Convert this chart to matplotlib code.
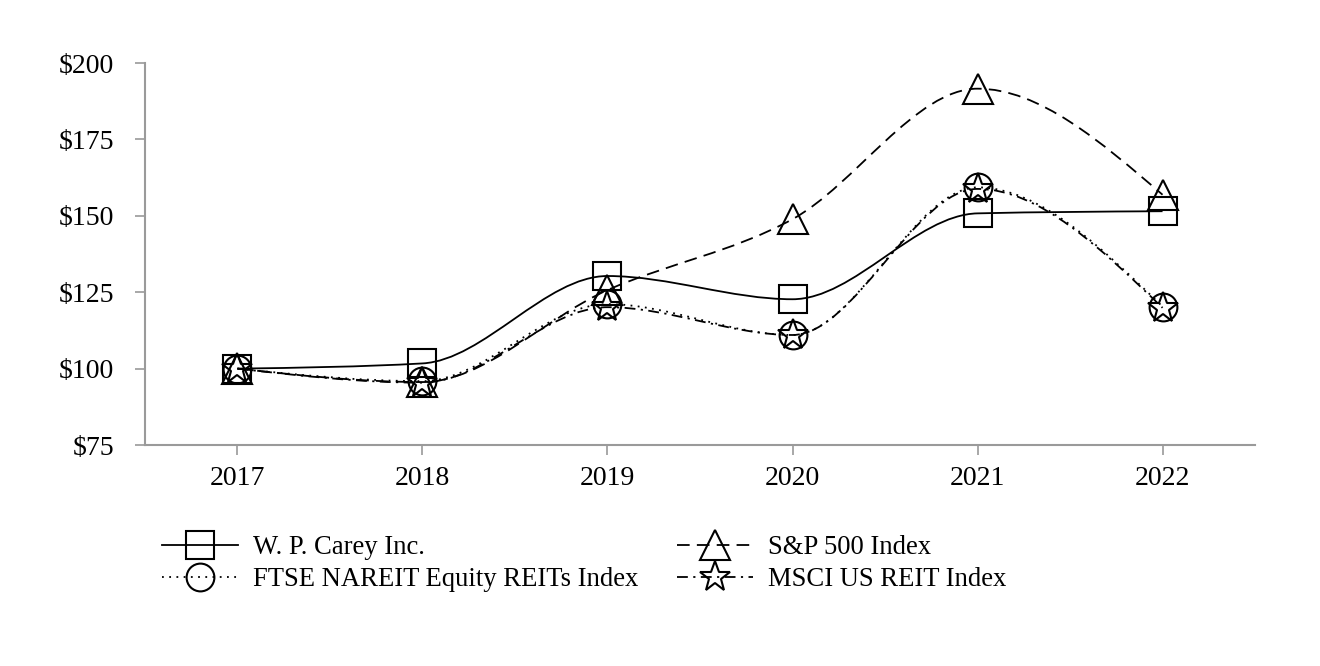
import matplotlib
matplotlib.use("Agg")
import matplotlib.pyplot as plt
from matplotlib.path import Path
from matplotlib.patches import PathPatch
from matplotlib.lines import Line2D
import numpy as np

plt.rcParams['font.family'] = ['Liberation Serif', 'DejaVu Serif']

years = ["2017", "2018", "2019", "2020", "2021", "2022"]
wpc = [100, 101.7, 130.3, 122.7, 150.8, 151.5]
sp500 = [100, 95.6, 125.7, 148.9, 191.6, 156.9]
ftse = [100, 95.9, 121.1, 111.0, 159.3, 120.3]
msci = [100, 95.4, 120.1, 111.0, 158.8, 119.9]

labels = ["W. P. Carey Inc.", "S&P 500 Index",
          "FTSE NAREIT Equity REITs Index", "MSCI US REIT Index"]
yticks = [75, 100, 125, 150, 175, 200]

GRAY = "#9a9a9a"
FS = 20
LEG_FS = 19.2


def monotone_path(xs, ys):
    """Monotone cubic curve through the points (same idea as d3 monotoneX)"""
    xs = np.asarray(xs, float)
    ys = np.asarray(ys, float)
    n = len(xs)
    h = np.diff(xs)
    s = np.diff(ys) / h
    t = np.zeros(n)
    for i in range(1, n - 1):
        p = (s[i - 1] * h[i] + s[i] * h[i - 1]) / (h[i - 1] + h[i])
        t[i] = (np.sign(s[i - 1]) + np.sign(s[i])) * min(abs(s[i - 1]), abs(s[i]), 0.5 * abs(p))
    t[0] = (3 * s[0] - t[1]) / 2
    t[-1] = (3 * s[-1] - t[-2]) / 2
    verts = [(xs[0], ys[0])]
    codes = [Path.MOVETO]
    for i in range(n - 1):
        dx = h[i] / 3
        verts += [(xs[i] + dx, ys[i] + dx * t[i]),
                  (xs[i + 1] - dx, ys[i + 1] - dx * t[i + 1]),
                  (xs[i + 1], ys[i + 1])]
        codes += [Path.CURVE4] * 3
    return Path(verts, codes)


fig = plt.figure(figsize=(13.2, 6.66), dpi=100)
ax = fig.add_axes([0.1098, 0.3318, 0.8410, 0.5736])

x = np.arange(len(years))
series = [
    (wpc, "-", "s", labels[0]),
    (sp500, (0, (7, 4)), "^", labels[1]),
    (ftse, (0, (1, 3)), "o", labels[2]),
    (msci, (0, (6, 3, 1.2, 3)), "*", labels[3]),
]
msizes = {"s": 20, "^": 21, "o": 20, "*": 23}

handles = []
for vals, ls, mk, lab in series:
    patch = PathPatch(monotone_path(x, vals), facecolor="none", edgecolor="black",
                      lw=1.3, linestyle=ls, zorder=2)
    ax.add_patch(patch)
    ax.plot(x, vals, linestyle="none", marker=mk, ms=msizes[mk],
            mfc="none", mec="black", mew=1.5, zorder=3)
    handles.append(Line2D([], [], color="black", lw=1.3, linestyle=ls,
                          marker=mk, ms=msizes[mk], mfc="none", mec="black",
                          mew=1.5, label=lab))

ax.set_xlim(-0.5, len(years) - 0.5)
ax.set_ylim(75, 200)
ax.set_xticks(x)
ax.set_xticklabels(years)
ax.set_yticks(yticks)
ax.set_yticklabels([f"${v}" for v in yticks])
ax.tick_params(axis="both", labelsize=FS, color=GRAY, length=7, width=1.2,
               direction="out")
ax.tick_params(axis="y", pad=15)
ax.tick_params(axis="x", pad=8)
for s in ["top", "right"]:
    ax.spines[s].set_visible(False)
for s in ["left", "bottom"]:
    ax.spines[s].set_color(GRAY)
    ax.spines[s].set_linewidth(1.5)

order = [handles[0], handles[2], handles[1], handles[3]]
fig.legend(handles=order, loc="upper left", bbox_to_anchor=(0.123, 0.196),
           ncol=2, frameon=False, fontsize=LEG_FS, handlelength=2.85,
           handletextpad=0.55, columnspacing=1.45, labelspacing=0.25,
           borderaxespad=0, borderpad=0)

fig.savefig("out.png", dpi=100)
